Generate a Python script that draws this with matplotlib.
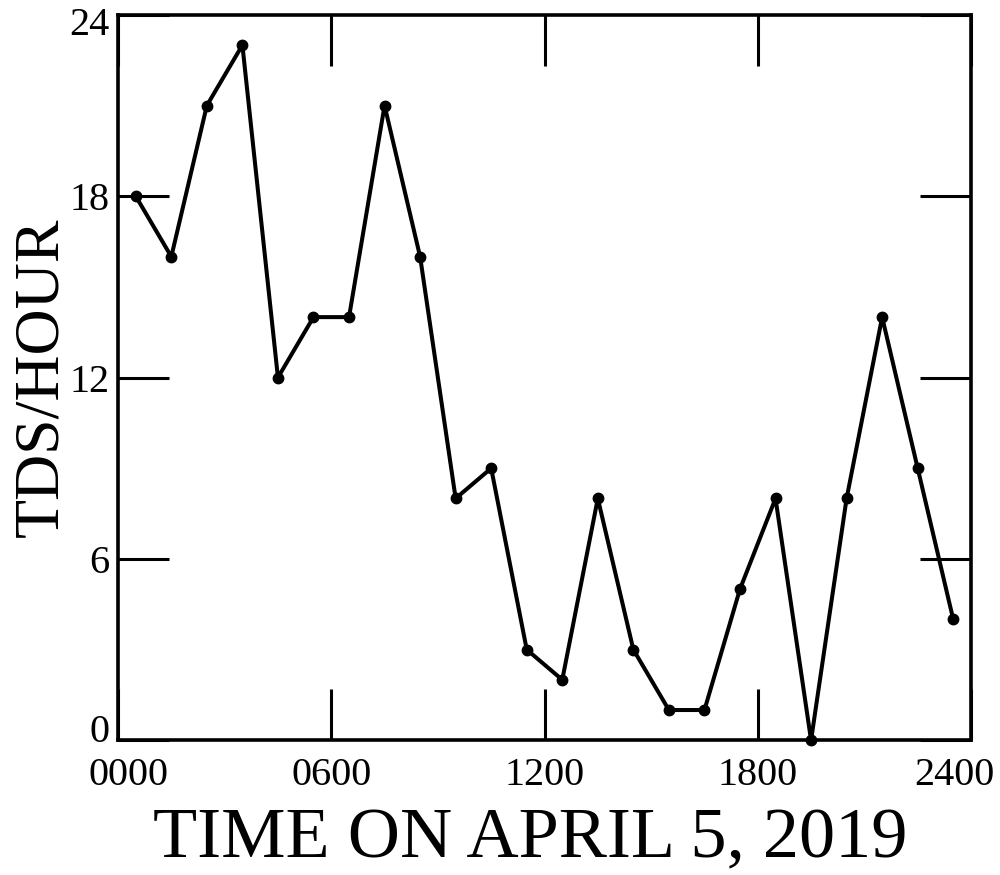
import numpy as np
import matplotlib
matplotlib.use("Agg")
import matplotlib.pyplot as plt
from matplotlib.transforms import ScaledTranslation

# hourly counts, plotted at the half hour
hours = [0.5, 1.5, 2.5, 3.5, 4.5, 5.5, 6.5, 7.5, 8.5, 9.5, 10.5, 11.5,
         12.5, 13.5, 14.5, 15.5, 16.5, 17.5, 18.5, 19.5, 20.5, 21.5, 22.5, 23.5]
tds = [18, 16, 21, 23, 12, 14, 14, 21, 16, 8, 9, 3,
       2, 8, 3, 1, 1, 5, 8, 0, 8, 14, 9, 4]
xticks = [0, 6, 12, 18, 24]
xticklabels = ["0000", "0600", "1200", "1800", "2400"]
yticks = [0, 6, 12, 18, 24]

plt.rcParams['font.family'] = ['Liberation Serif', 'DejaVu Serif']

fig = plt.figure(figsize=(10, 8.75), dpi=100)
ax = fig.add_axes([0.118, 0.154, 0.853, 0.829])

ax.plot(hours, tds, color='black', lw=2.9, marker='o', ms=7.5, clip_on=False, zorder=3)

ax.set_xlim(0, 24)
ax.set_ylim(0, 24)
ax.set_xticks(xticks)
ax.set_xticklabels(xticklabels)
ax.set_yticks(yticks)
ax.set_yticklabels([str(v) for v in yticks])

ax.tick_params(direction='in', length=37, width=2.2, labelsize=29,
               top=True, right=True, colors='black')
ax.tick_params(axis='x', pad=12)
ax.tick_params(axis='y', pad=6)

for s in ax.spines.values():
    s.set_linewidth(2.6)

def nudge(lab, dx, dy):
    lab.set_transform(lab.get_transform() + ScaledTranslation(dx/100, dy/100, fig.dpi_scale_trans))

# end labels sit a little inward of the corners
xl = ax.get_xticklabels()
nudge(xl[0], 10, 0)
nudge(xl[-1], -17, 0)
yl = ax.get_yticklabels()
nudge(yl[0], 0, 12)
nudge(yl[-1], 0, -6)

ax.set_ylabel('TDS/HOUR', fontsize=46)
ax.yaxis.set_label_coords(-0.055, 0.5)
ax.set_xlabel('TIME ON APRIL 5, 2019', fontsize=52)
ax.xaxis.set_label_coords(0.483, -0.093)

fig.savefig('out.png', dpi=100)
